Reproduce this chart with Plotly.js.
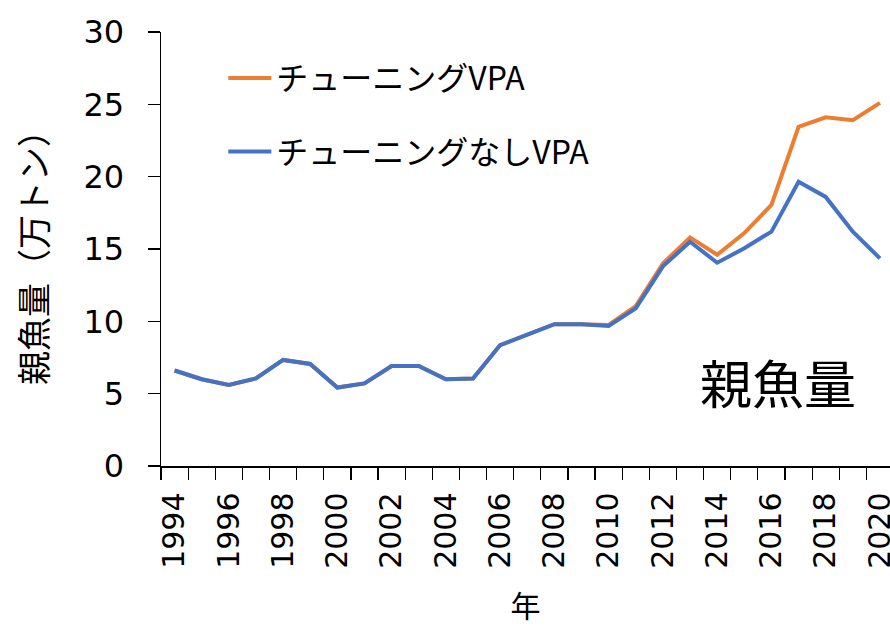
<!DOCTYPE html>
<html>
<head>
<meta charset="utf-8">
<script src="https://cdn.plot.ly/plotly-3.0.1.min.js"></script>
<style>html,body{margin:0;padding:0;background:#fff;}#chart{width:890px;height:626px;}</style>
</head>
<body>
<div id="chart"></div>
<script>
const years = [1994,1995,1996,1997,1998,1999,2000,2001,2002,2003,2004,2005,2006,2007,2008,2009,2010,2011,2012,2013,2014,2015,2016,2017,2018,2019,2020];
const tunedVPA = [6.6,6.0,5.6,6.06,7.33,7.05,5.42,5.71,6.91,6.91,5.99,6.04,8.36,9.1,9.8,9.8,9.75,11.05,14.0,15.8,14.6,16.1,18.05,23.45,24.1,23.9,25.1];
const untunedVPA = [6.6,6.0,5.6,6.06,7.33,7.05,5.42,5.71,6.91,6.91,5.99,6.04,8.36,9.1,9.8,9.8,9.68,10.9,13.8,15.5,14.05,15.05,16.2,19.65,18.6,16.2,14.35];
const seriesNames = ["チューニングVPA","チューニングなしVPA"];
const xTickVals = [1994,1996,1998,2000,2002,2004,2006,2008,2010,2012,2014,2016,2018,2020];
const yTickVals = [0,5,10,15,20,25,30];

const jp = "'Noto Sans CJK JP', 'DejaVu Sans', sans-serif";
const num = "'DejaVu Sans', 'Noto Sans CJK JP', sans-serif";

const traces = [
  {x: years, y: tunedVPA, name: seriesNames[0], type: 'scatter', mode: 'lines',
   line: {color: '#ED7D31', width: 4}, legendgroup: 'a'},
  {x: years, y: untunedVPA, name: seriesNames[1], type: 'scatter', mode: 'lines',
   line: {color: '#4472C4', width: 4}, legendgroup: 'b'}
];

const layout = {
  width: 890, height: 626,
  margin: {l: 161, r: 0, t: 32, b: 160},
  paper_bgcolor: '#fff', plot_bgcolor: '#fff',
  showlegend: true,
  legend: {x: 0.0855, y: 0.957, xanchor: 'left', yanchor: 'top',
    font: {family: jp, size: 32, color: '#000'}, bgcolor: 'rgba(0,0,0,0)',
    tracegroupgap: 29, traceorder: 'grouped', itemwidth: 43},
  xaxis: {
    range: [1993.5, 2020.37], tickmode: 'array', tickvals: xTickVals,
    ticktext: xTickVals.map(String), tickangle: -90, ticks: '',
    tickfont: {family: num, size: 30, color: '#000'}, ticklabelstandoff: 13,
    ticklabeloverflow: 'allow',
    showline: true, linecolor: '#000', linewidth: 1.5, showgrid: false, zeroline: false,
    minor: {ticks: 'outside', tick0: 1993.5, dtick: 1, ticklen: 12, tickcolor: '#000', tickwidth: 1.2, showgrid: false},
    title: {text: '年', font: {family: jp, size: 30, color: '#000'}, standoff: 30}
  },
  yaxis: {
    range: [0, 30], tickmode: 'array', tickvals: yTickVals, ticks: 'outside', ticklen: 12,
    tickcolor: '#000', tickwidth: 1.2, ticklabelstandoff: 17,
    tickfont: {family: num, size: 32, color: '#000'},
    showline: true, linecolor: '#000', linewidth: 1.5, showgrid: false, zeroline: false,
    title: {text: '親魚量（万トン）', font: {family: jp, size: 34, color: '#000'}, standoff: 25}
  },
  annotations: [{
    text: '親魚量', xref: 'paper', yref: 'paper', x: 0.846, y: 0.195,
    xanchor: 'center', yanchor: 'middle', showarrow: false,
    font: {family: jp, size: 52, color: '#000'}
  }]
};

Plotly.newPlot('chart', traces, layout, {displayModeBar: false, staticPlot: true});
</script>
</body>
</html>
